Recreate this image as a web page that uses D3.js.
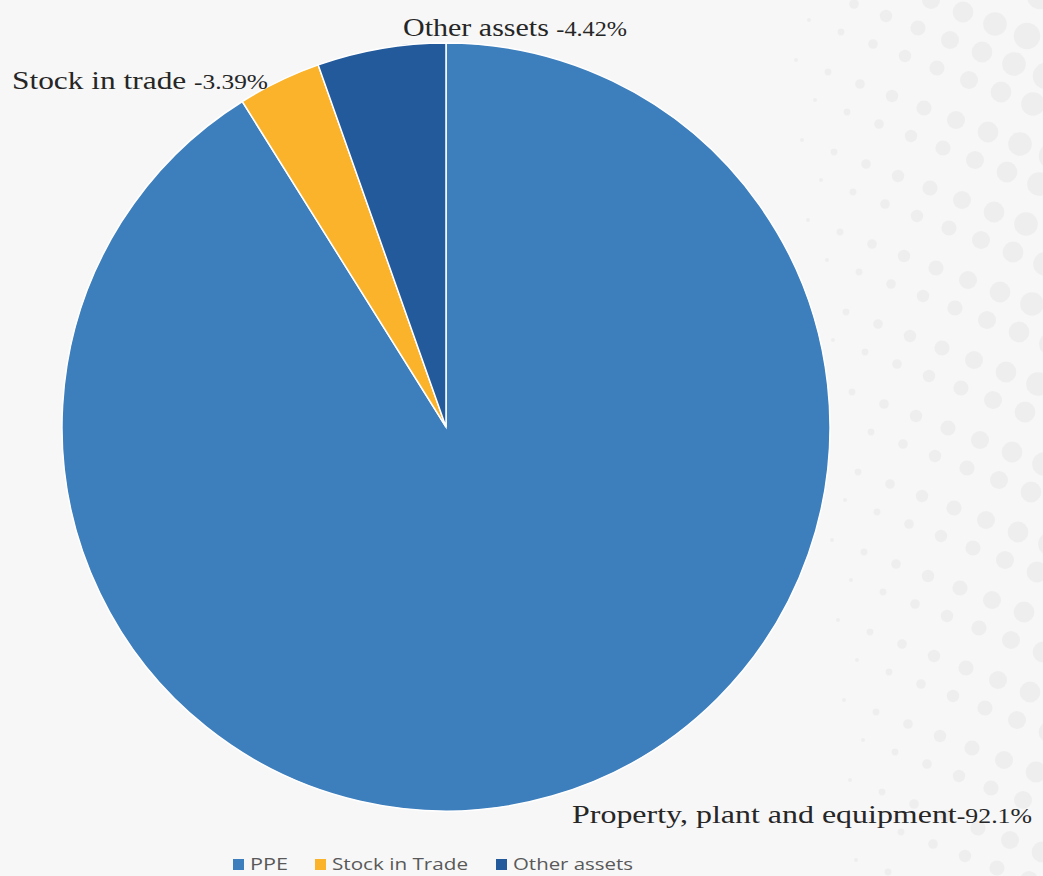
<!DOCTYPE html>
<html>
<head>
<meta charset="utf-8">
<script src="https://cdn.jsdelivr.net/npm/d3@7"></script>
<style>
  html, body { margin: 0; padding: 0; background: #f7f7f7; }
  svg { display: block; }
</style>
</head>
<body>
<svg id="chart" width="1043" height="876"></svg>
<script>
// ---- data ----
const categories = ["PPE", "Stock in Trade", "Other assets"];
const sliceValues = [91.1, 3.5, 5.4];          // slice sizes
const labelNames = ["Property, plant and equipment", "Stock in trade ", "Other assets "];
const labelValues = ["-92.1%", "-3.39%", "-4.42%"];
const colors = ["#3d7ebd", "#fbb32b", "#235a9c"];

const svg = d3.select("#chart");
const W = 1043, H = 876;
svg.append("rect").attr("width", W).attr("height", H).attr("fill", "#f7f7f7");

const cx = 446, cy = 427, R = 384;

// decorative dotted background (right side)
const deco = svg.append("g");
for (let row = -2; row < 24; row++) {
  for (let col = 0; col < 10; col++) {
    const x = 790 + col * 32 + (row % 2) * 16 + (row * 3);
    const y = row * 40 + col * 12 - 20;
    const r = 2 + col * 1.4;
    if (x > W + 20 || y > H + 20) continue;
    const d = Math.hypot(x - cx, y - cy);
    if (d < R + 10) continue;
    deco.append("circle").attr("cx", x).attr("cy", y).attr("r", r)
      .attr("fill", "#e8e8e8").attr("opacity", 0.55);
  }
}

const pie = d3.pie().sort(null).value(d => d)(sliceValues);
const arc = d3.arc().innerRadius(0).outerRadius(R);

svg.append("g").attr("transform", `translate(${cx},${cy})`)
  .selectAll("path").data(pie).join("path")
  .attr("d", arc)
  .attr("fill", (d, i) => colors[i])
  .attr("stroke", "#ffffff").attr("stroke-width", 1.5);

// labels
const labelPos = [
  { x: 572, y: 823, w: 460 },
  { x: 12, y: 89, w: 256 },
  { x: 403, y: 36, w: 224 }
];
const lab = svg.append("g").attr("font-family", "'Liberation Serif', 'DejaVu Serif', serif")
  .attr("fill", "#262626");
labelPos.forEach((p, i) => {
  const t = lab.append("text").attr("x", p.x).attr("y", p.y)
    .attr("textLength", p.w).attr("lengthAdjust", "spacingAndGlyphs");
  t.append("tspan").attr("font-size", 26).text(labelNames[i]);
  t.append("tspan").attr("font-size", 21).text(labelValues[i]);
});

// legend
const legendX = [233, 315, 496];
const legendW = [38, 136, 120];
const leg = svg.append("g").attr("font-family", "'Open Sans', 'Liberation Sans', sans-serif")
  .attr("font-size", 16).attr("fill", "#595959");
categories.forEach((c, i) => {
  leg.append("rect").attr("x", legendX[i]).attr("y", 859).attr("width", 11).attr("height", 11)
    .attr("fill", colors[i]);
  leg.append("text").attr("x", legendX[i] + 17).attr("y", 870)
    .attr("textLength", legendW[i]).attr("lengthAdjust", "spacingAndGlyphs").text(c);
});
</script>
</body>
</html>
